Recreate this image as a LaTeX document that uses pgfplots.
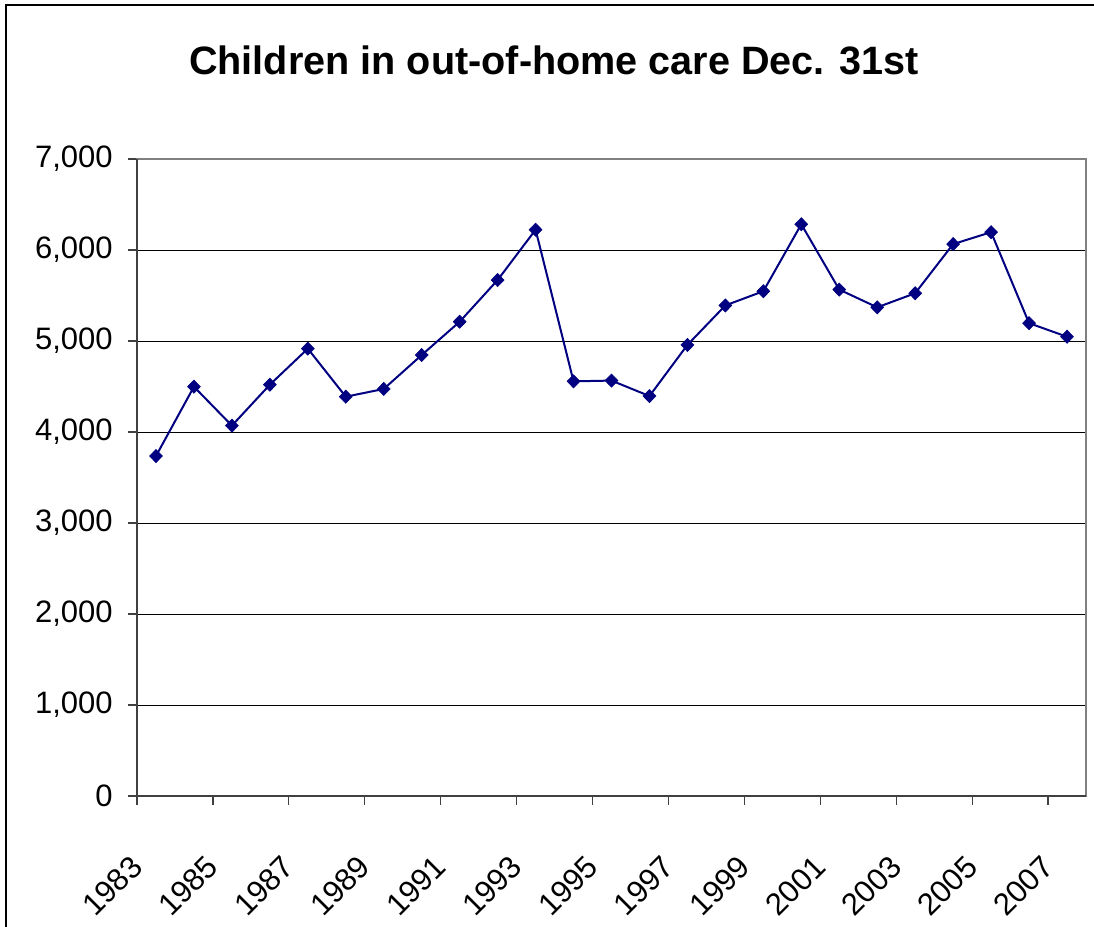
\documentclass[border=0pt]{standalone}
\usepackage{fontspec}
\setmainfont{Liberation Sans}
\usepackage{pgfplots}
\pgfplotsset{compat=1.18}

\definecolor{seriesblue}{RGB}{0,0,128}
\definecolor{plotframe}{RGB}{128,128,128}
\definecolor{axisdark}{RGB}{64,64,64}

\begin{document}
\begin{tikzpicture}
\useasboundingbox (0,0) rectangle (547pt,463.5pt);
% outer chart frame
\draw[line width=0.7pt, black] (3pt,0) -- (3pt,461pt) -- (547pt,461pt);
% title
\node[font=\fontsize{19.8}{23}\selectfont\bfseries] at (277pt,433.5pt) {Children in out-of-home care Dec. 31st};
\begin{axis}[
  at={(68.5pt,65.5pt)}, anchor=south west,
  scale only axis,
  width=474.5pt, height=318.5pt,
  xmin=-0.5, xmax=24.5,
  ymin=0, ymax=7000,
  xtick={-0.5,1.5,...,23.5},
  xticklabels={1983,1985,1987,1989,1991,1993,1995,1997,1999,2001,2003,2005,2007},
  ytick={0,1000,...,7000},
  tick align=outside,
  major tick length=4.5pt,
  tick style={axisdark, line width=0.6pt},
  xtick pos=bottom, ytick pos=left,
  ymajorgrids,
  grid style={black, line width=0.5pt},
  axis line style={plotframe, line width=0.9pt},
  ticklabel style={font=\fontsize{15.5}{18}\selectfont},
  /pgf/number format/assume math mode=true,
  /pgf/number format/1000 sep={,},
  yticklabel style={anchor=east, inner sep=0pt},
  yticklabel shift=7.5pt,
  xticklabel style={rotate=45, anchor=east, inner sep=0pt},
  xticklabel shift=28pt,
  clip=false,
]
\addplot[seriesblue, line width=1pt, mark=diamond*, mark size=3.3pt,
  mark options={fill=seriesblue, draw=seriesblue, line width=0.3pt, xscale=1.3}]
  table[x=i, y=n] {
  i  n
  0  3736
  1  4498
  2  4070
  3  4520
  4  4916
  5  4388
  6  4473
  7  4846
  8  5212
  9  5670
  10 6223
  11 4557
  12 4565
  13 4395
  14 4957
  15 5391
  16 5547
  17 6283
  18 5565
  19 5370
  20 5525
  21 6065
  22 6196
  23 5196
  24 5047
  };
% left and bottom axis lines in dark grey
\draw[axisdark, line width=1pt] (rel axis cs:0,1) -- (rel axis cs:0,0) -- (rel axis cs:1,0);
\end{axis}
\end{tikzpicture}
\end{document}
